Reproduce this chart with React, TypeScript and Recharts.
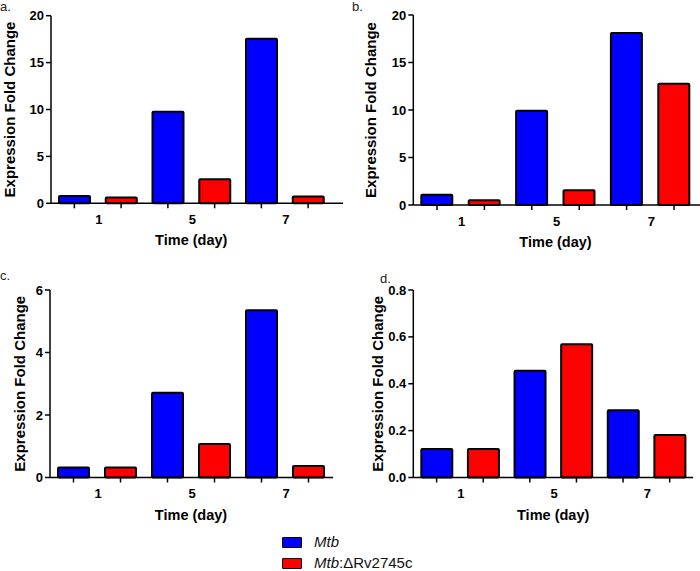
import { BarChart, Bar, XAxis, YAxis, Cell } from 'recharts';

const days = ['1', '5', '7'];
const strainItalic = ['Mtb', 'Mtb'];
const strainSuffix = ['', ':\u0394Rv2745c'];
const strainColors = ['#0000ff', '#ff0000'];

// a.
const mtbA = [0.78, 9.77, 17.55];
const deltaA = [0.62, 2.56, 0.72];
const yTicksA = [0, 5, 10, 15, 20];
// b.
const mtbB = [1.08, 9.93, 18.1];
const deltaB = [0.49, 1.54, 12.77];
const yTicksB = [0, 5, 10, 15, 20];
// c.
const mtbC = [0.32, 2.71, 5.35];
const deltaC = [0.32, 1.07, 0.37];
const yTicksC = [0, 2, 4, 6];
// d.
const mtbD = [0.122, 0.455, 0.287];
const deltaD = [0.122, 0.569, 0.181];
const yTicksD = [0, 0.2, 0.4, 0.6, 0.8];

const FONT = '"Liberation Sans", Arial, sans-serif';
const PW = 350;
const PH = 270;

type Row = { key: string; day: string; strain: number; value: number };

function buildRows(mtb: number[], delta: number[]): Row[] {
  return days.flatMap((day, i) => [
    { key: `${day}-mtb`, day, strain: 0, value: mtb[i] },
    { key: `${day}-delta`, day, strain: 1, value: delta[i] },
  ]);
}

type PanelProps = {
  letter: string;
  letterX: number;
  letterY: number;
  left: number;
  top: number;
  rows: Row[];
  ticks: number[];
  decimals: number;
  axisX: number;
  plotTop: number;
  plotBottom: number;
  plotRight: number;
  padRight: number;
  labelX: number;
};

function Panel(p: PanelProps) {
  const band = (p.plotRight - p.axisX - p.padRight) / p.rows.length;
  const midY = (p.plotTop + p.plotBottom) / 2;
  const midX = p.axisX + band * (p.rows.length / 2);
  const axisStyle = { stroke: '#000', strokeWidth: 1.5 };

  const dayTick = (props: any) => {
    const { x, y, payload } = props;
    const row = p.rows.find((r) => r.key === payload.value);
    if (!row || row.strain !== 0) return <g />;
    return (
      <text x={x + band / 2 + 1} y={y + 9} textAnchor="middle" dominantBaseline="central"
        fontSize={13} fontWeight="bold" fill="#000" fontFamily={FONT}>
        {row.day}
      </text>
    );
  };

  return (
    <div style={{ position: 'absolute', left: p.left, top: p.top, width: PW, height: PH }}>
      <BarChart width={PW} height={PH} data={p.rows}
        margin={{ top: p.plotTop, right: PW - p.plotRight, bottom: 0, left: 0 }}>
        <XAxis dataKey="key" height={PH - p.plotBottom} interval={0} tickSize={5} tickMargin={2}
          axisLine={axisStyle} tickLine={axisStyle} padding={{ left: 0, right: p.padRight }}
          tick={dayTick}
          label={() => (
            <text x={midX} y={p.plotBottom + 37} textAnchor="middle" dominantBaseline="central"
              fontSize={14.5} fontWeight="bold" fill="#000" fontFamily={FONT}>
              Time (day)
            </text>
          )}
        />
        <YAxis type="number" width={p.axisX} domain={[0, p.ticks[p.ticks.length - 1]]} ticks={p.ticks}
          interval={0} tickSize={5} tickMargin={2} axisLine={axisStyle} tickLine={axisStyle}
          tick={{ fill: '#000', fontSize: 13, fontWeight: 'bold', fontFamily: FONT }}
          tickFormatter={(v: number) => v.toFixed(p.decimals)}
          label={() => (
            <text x={p.labelX} y={midY} transform={`rotate(-90, ${p.labelX}, ${midY})`}
              textAnchor="middle" dominantBaseline="central" fontSize={15} fontWeight="bold"
              fill="#000" fontFamily={FONT}>
              Expression Fold Change
            </text>
          )}
        />
        <Bar dataKey="value" barSize={31} stroke="#000" strokeWidth={2} radius={1} isAnimationActive={false}>
          {p.rows.map((r) => (
            <Cell key={r.key} fill={strainColors[r.strain]} />
          ))}
        </Bar>
      </BarChart>
      <span style={{ position: 'absolute', left: p.letterX, top: p.letterY, fontSize: 13, lineHeight: '14px', color: '#222', fontFamily: FONT }}>
        {p.letter}
      </span>
    </div>
  );
}

export default function App() {
  return (
    <div style={{ position: 'absolute', left: 0, top: 0, width: 700, height: 571, background: '#fff', fontFamily: FONT }}>
      <Panel letter="a." letterX={0} letterY={0} left={0} top={0} rows={buildRows(mtbA, deltaA)}
        ticks={yTicksA} decimals={0} axisX={51} plotTop={15.7} plotBottom={203.3} plotRight={343}
        padRight={11.5} labelX={9} />
      <Panel letter="b." letterX={2} letterY={0} left={350} top={0} rows={buildRows(mtbB, deltaB)}
        ticks={yTicksB} decimals={0} axisX={63.3} plotTop={15} plotBottom={205} plotRight={350}
        padRight={2.3} labelX={20} />
      <Panel letter="c." letterX={0} letterY={9} left={0} top={260} rows={buildRows(mtbC, deltaC)}
        ticks={yTicksC} decimals={0} axisX={50} plotTop={30} plotBottom={217.5} plotRight={333}
        padRight={1} labelX={19} />
      <Panel letter="d." letterX={30} letterY={12} left={350} top={260} rows={buildRows(mtbD, deltaD)}
        ticks={yTicksD} decimals={1} axisX={63.3} plotTop={30} plotBottom={217.5} plotRight={343}
        padRight={0} labelX={27} />
      {strainItalic.map((name, i) => (
        <div key={name + i} style={{ position: 'absolute', left: 282, top: 542 + i * 21 - 9, height: 18, display: 'flex', alignItems: 'center' }}>
          <div style={{ width: 18, height: 9, background: strainColors[i], border: '1.5px solid #000', borderRadius: 1 }} />
          <span style={{ marginLeft: 12, fontSize: 15, lineHeight: '18px', color: '#111' }}>
            <i>{name}</i>
            {strainSuffix[i]}
          </span>
        </div>
      ))}
    </div>
  );
}
